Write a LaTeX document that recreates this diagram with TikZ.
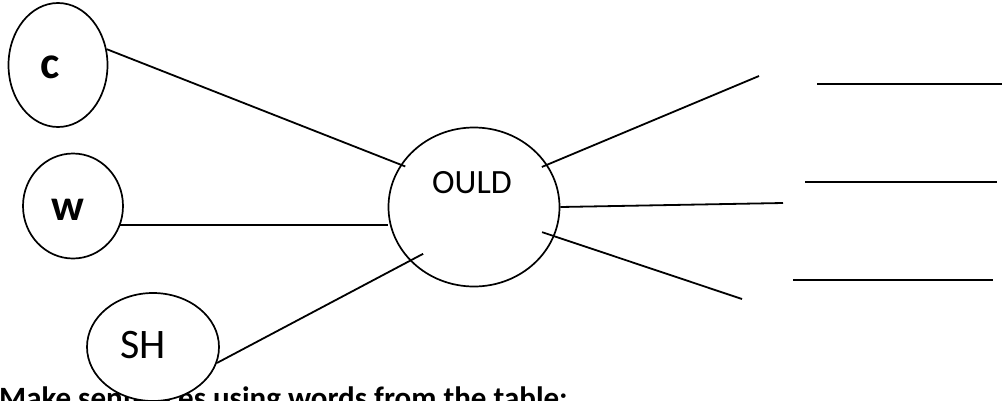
\documentclass[tikz,border=0pt]{standalone}
\usepackage{fontspec}
\setmainfont{Carlito}
\usepackage{tikz}
\usetikzlibrary{shapes.geometric}
\tikzstyle{bubble}=[draw,ellipse,fill=white,line width=1.7pt,inner sep=0pt]
\tikzstyle{spoke}=[line width=1.8pt]
\tikzstyle{blank}=[line width=1.6pt]
\tikzstyle{letters}=[inner sep=0pt]
\newcommand\fs[1]{\fontsize{#1}{#1}\selectfont}

\begin{document}
\begin{tikzpicture}[x=1pt,y=-1pt]
	\useasboundingbox (0,0) rectangle (1002,400);
	\node[letters,anchor=base west] (task) at (-1,408) {\fs{31}\bfseries Make sentences using words from the table:};
	\node[bubble,minimum width=99pt,minimum height=124pt]  (c)    at (58,65)   {};
	\node[bubble,minimum width=100pt,minimum height=105pt] (w)    at (73,206)  {};
	\node[bubble,minimum width=132pt,minimum height=108pt] (sh)   at (153,347) {};
	\node[bubble,minimum width=171pt,minimum height=159pt] (ould) at (474,207) {};
	\node[letters] at (50,67)   {\fs{46}\bfseries c};
	\node[letters] at (68,210)  {\fs{44}\bfseries w};
	\node[letters] at (143,345) {\fs{42}SH};
	\node[letters] at (472,183) {\fs{34}OULD};
	\coordinate (r1) at (759,76);
	\coordinate (r2) at (783,203);
	\coordinate (r3) at (742,299);
	\draw[spoke,shorten >=-5pt] (c.18) -- (ould.150);
	\draw[spoke] (w.-22) -- (w.-22 -| ould.west);
	\draw[spoke,shorten >=-15pt] (sh.-14) -- (ould.220);
	\draw[spoke,shorten <=-6pt] (ould.30) -- (r1);
	\draw[spoke] (ould.east) -- (r2);
	\draw[spoke,shorten <=-13pt] (ould.-20) -- (r3);
	% blanks to fill in
	\draw[blank] (817,84) -- (1002,84);
	\draw[blank] (805,182) -- (997,182);
	\draw[blank] (793,280) -- (993,280);
\end{tikzpicture}
\end{document}
